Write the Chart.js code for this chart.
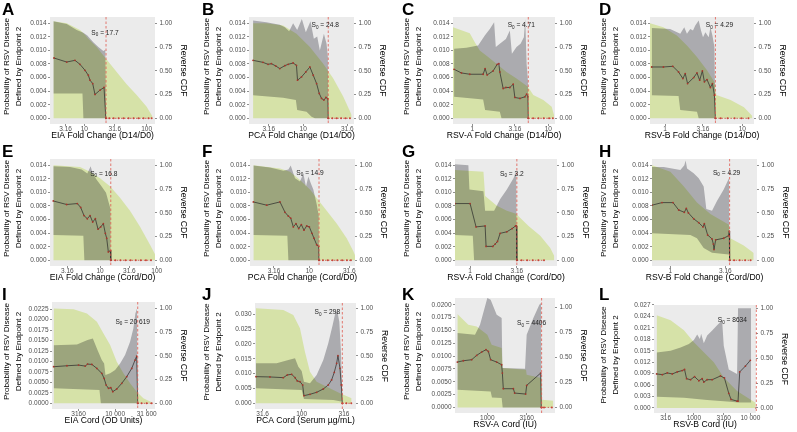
<!DOCTYPE html>
<html>
<head>
<meta charset="utf-8">
<script src="https://cdn.jsdelivr.net/npm/chart.js@4.4.1/dist/chart.umd.min.js"></script>
<style>
  body { margin: 0; background: #fff; }
  #wrap { position: relative; width: 797px; height: 432px; overflow: hidden; }
  #wrap canvas { position: absolute; }
</style>
</head>
<body>
<div id="wrap"></div>
<script>
// x values are log10 of the marker; y values are probabilities (cdf arrays: reverse CDF, 0-1)
const probA = [[0.513,0.00888],[0.717,0.00829],[0.850,0.00854],[0.930,0.00795],[1.011,0.00707],[1.064,0.00634],[1.091,0.00561],[1.134,0.00512],[1.171,0.00351],[1.251,0.00415],[1.316,0.00454],[1.345,0]];
const hiA = [[0.503,0.01429],[0.717,0.0139],[0.877,0.0130],[0.984,0.0126],[1.048,0.0122],[1.144,0.01122],[1.225,0.01049],[1.305,0.0099],[1.337,0.0101],[1.348,0]];
const loA = [[0.503,0.00366],[0.97,0.00366],[0.985,0],[1.348,0]];
const cdfA = [[0.503,1.02],[0.717,1.0],[0.930,0.93],[1.011,0.88],[1.064,0.836],[1.198,0.749],[1.348,0.627],[1.519,0.488],[1.679,0.359],[1.84,0.244],[2.0,0.122],[2.096,0.017]];
const tailA = [1.40,1.47,1.55,1.63,1.71,1.79,1.87,1.95,2.03,2.08];

const probB = [[0.432,0.00854],[0.545,0.00824],[0.602,0.00795],[0.640,0.00805],[0.689,0.00771],[0.735,0.00732],[0.792,0.00776],[0.830,0.00795],[0.886,0.00815],[0.924,0.0078],[0.936,0.00561],[0.981,0.0061],[1.030,0.00683],[1.076,0.00756],[1.114,0.00634],[1.152,0.00512],[1.182,0.00366],[1.208,0.00293],[1.235,0.00268],[1.258,0.00307],[1.280,0.00288],[1.284,0]];
const hiB = [[0.432,0.01439],[0.583,0.01415],[0.735,0.0138],[0.792,0.01341],[0.841,0.01283],[0.886,0.014],[0.932,0.01302],[0.985,0.01463],[1.030,0.01268],[1.083,0.01429],[1.121,0.01171],[1.159,0.01205],[1.189,0.01],[1.235,0.01244],[1.265,0.01098],[1.280,0.00902],[1.284,0]];
const loB = [[0.432,0.00341],[0.773,0.00302],[0.917,0.00268],[0.932,0.00122],[1.038,0.00098],[1.095,0.00024],[1.133,0],[1.284,0]];
const cdfB = [[0.432,1.0],[0.583,1.0],[0.773,0.976],[0.924,0.889],[1.076,0.749],[1.227,0.575],[1.341,0.418],[1.455,0.226],[1.549,0.035]];
const tailB = [1.33,1.38,1.43,1.48,1.53];

const probC = [[-0.242,0.00722],[-0.145,0.00668],[-0.035,0.00649],[0.141,0.00649],[0.167,0.00732],[0.194,0.00639],[0.273,0.00698],[0.326,0.00795],[0.348,0.00805],[0.361,0.00683],[0.405,0.00439],[0.441,0.00454],[0.493,0.00454],[0.537,0.00502],[0.559,0.00307],[0.626,0.00293],[0.692,0.00317],[0.714,0.00356],[0.731,0.00317],[0.736,0]];
const hiC = [[-0.242,0.01024],[-0.079,0.01039],[0.075,0.01073],[0.163,0.0122],[0.229,0.01317],[0.286,0.01415],[0.308,0.01049],[0.361,0.01098],[0.441,0.0117],[0.493,0.01293],[0.52,0.00951],[0.581,0.01049],[0.634,0.01098],[0.678,0.01195],[0.696,0.01463],[0.714,0.00805],[0.731,0.0056],[0.736,0]];
const loC = [[-0.242,0.00317],[0.141,0.00278],[0.167,0.00122],[0.361,0.00098],[0.383,0],[0.736,0]];
const cdfC = [[-0.256,0.958],[-0.035,0.895],[0.031,0.801],[0.097,0.714],[0.207,0.645],[0.317,0.575],[0.449,0.488],[0.581,0.418],[0.731,0.331],[0.802,0.244],[0.934,0.192],[1.044,0.122],[1.075,0.035]];
const tailC = [0.80,0.87,0.94,1.01,1.06];

const probD = [[-0.174,0.00756],[-0.022,0.00756],[0.1,0.00766],[0.174,0.00683],[0.23,0.00585],[0.261,0.00659],[0.291,0.00512],[0.37,0.006],[0.413,0.00668],[0.448,0.00561],[0.483,0.00698],[0.509,0.00537],[0.543,0.00571],[0.587,0.00454],[0.613,0.00512],[0.639,0.00341],[0.652,0]];
const hiD = [[-0.174,0.01332],[0.065,0.01317],[0.196,0.01244],[0.248,0.01341],[0.283,0.01244],[0.326,0.01317],[0.361,0.01293],[0.391,0.01366],[0.435,0.01439],[0.465,0.01293],[0.491,0.01195],[0.522,0.01268],[0.565,0.01195],[0.587,0.01341],[0.613,0.0122],[0.639,0.01049],[0.652,0]];
const loD = [[-0.174,0.00341],[0.174,0.00327],[0.196,0.00122],[0.413,0.00098],[0.435,0],[0.652,0]];
const cdfD = [[-0.196,1.0],[-0.022,0.958],[0.152,0.871],[0.283,0.767],[0.413,0.645],[0.543,0.505],[0.639,0.383],[0.665,0.244],[0.848,0.192],[1.022,0.115],[1.13,0.024]];
const tailD = [0.72,0.81,0.9,0.99,1.08];

const probE = [[0.176,0.00874],[0.412,0.00822],[0.6,0.00836],[0.659,0.00779],[0.718,0.00659],[0.776,0.00612],[0.824,0.00659],[0.871,0.00564],[0.918,0.00612],[0.965,0.00459],[1.012,0.00492],[1.059,0.0054],[1.094,0.00397],[1.118,0.00325],[1.147,0.00124],[1.186,0.00143],[1.19,0]];
const hiE = [[0.176,0.01386],[0.471,0.01376],[0.676,0.01338],[0.776,0.0128],[0.835,0.01386],[0.871,0.0128],[0.941,0.01185],[1.029,0.01089],[1.106,0.00994],[1.153,0.0085],[1.186,0.00755],[1.19,0]];
const loE = [[0.176,0.00373],[0.706,0.00363],[0.724,0],[1.19,0]];
const cdfE = [[0.176,1.0],[0.647,0.983],[0.824,0.932],[1.0,0.863],[1.176,0.778],[1.353,0.659],[1.529,0.522],[1.706,0.352],[1.882,0.164],[1.988,0.044]];
const tailE = [1.27,1.36,1.45,1.54,1.63,1.72,1.81,1.9];

const probF = [[0.3,0.0086],[0.467,0.00812],[0.633,0.0086],[0.696,0.00707],[0.738,0.0065],[0.767,0.00621],[0.8,0.00492],[0.833,0.0054],[0.867,0.00468],[0.9,0.00526],[0.933,0.00444],[0.967,0.00506],[1.0,0.00492],[1.033,0.00397],[1.058,0.00325],[1.092,0.00229],[1.117,0.00205],[1.121,0]];
const hiF = [[0.3,0.01395],[0.508,0.01367],[0.675,0.01319],[0.738,0.01338],[0.767,0.01395],[0.821,0.01209],[0.883,0.01161],[0.925,0.0128],[0.958,0.01089],[0.988,0.01233],[1.017,0.01137],[1.05,0.01042],[1.092,0.00827],[1.117,0.00659],[1.121,0]];
const loF = [[0.3,0.00373],[0.725,0.00363],[0.738,0],[1.121,0]];
const cdfF = [[0.3,1.0],[0.633,0.966],[0.758,0.932],[0.883,0.846],[1.008,0.744],[1.121,0.625],[1.217,0.522],[1.342,0.386],[1.467,0.232],[1.55,0.096],[1.583,0.027]];
const tailF = [1.17,1.23,1.29,1.35,1.41,1.47,1.52];

const probG = [[-0.161,0.00836],[0,0.00836],[0.064,0.00492],[0.161,0.00506],[0.171,0.00205],[0.243,0.00205],[0.268,0.00239],[0.293,0.00277],[0.321,0.00397],[0.393,0.0042],[0.45,0.00468],[0.486,0.00506],[0.496,0.00506],[0.5,0]];
const hiG = [[-0.161,0.01414],[-0.018,0.014],[-0.007,0.01042],[0.143,0.01018],[0.161,0.00731],[0.257,0.00731],[0.321,0.00898],[0.393,0.01042],[0.464,0.01209],[0.493,0.01304],[0.5,0]];
const loG = [[-0.161,0.00373],[0.029,0.00363],[0.043,0],[0.5,0]];
const cdfG = [[-0.161,0.949],[0.143,0.932],[0.161,0.676],[0.286,0.573],[0.393,0.522],[0.5,0.488],[0.518,0.464],[0.625,0.362],[0.75,0.259],[0.857,0.13],[0.9,0.044]];
const tailG = [0.55,0.61,0.67,0.73,0.79];

const probH = [[-0.167,0.00812],[-0.076,0.0085],[0.024,0.0085],[0.076,0.00741],[0.127,0.00707],[0.145,0.00764],[0.164,0.00698],[0.212,0.00612],[0.258,0.00554],[0.297,0.00492],[0.309,0.0054],[0.339,0.00373],[0.379,0.00315],[0.391,0.00239],[0.397,0.00158],[0.412,0.00301],[0.485,0.00325],[0.53,0.00363],[0.536,0.0043],[0.539,0]];
const hiH = [[-0.167,0.01376],[-0.061,0.01376],[0.091,0.01329],[0.127,0.014],[0.139,0.0147],[0.152,0.01352],[0.212,0.01281],[0.258,0.01209],[0.303,0.01089],[0.327,0.00755],[0.379,0.00731],[0.424,0.00874],[0.485,0.01042],[0.533,0.01209],[0.539,0]];
const loH = [[-0.167,0.00397],[0.182,0.00373],[0.242,0.00325],[0.303,0.00182],[0.379,0.0011],[0.533,0.00086],[0.539,0]];
const cdfH = [[-0.167,1.0],[0,0.932],[0.121,0.778],[0.242,0.608],[0.364,0.488],[0.533,0.375],[0.545,0.232],[0.667,0.157],[0.758,0.078]];
const tailH = [0.58,0.63,0.68,0.73];

const probI = [[3.026,0.00875],[3.237,0.00898],[3.421,0.00914],[3.526,0.0089],[3.563,0.00938],[3.632,0.0093],[3.711,0.00835],[3.789,0.00716],[3.826,0.00596],[3.858,0.00437],[3.895,0.00358],[3.932,0.00374],[3.963,0.00278],[4.026,0.00342],[4.105,0.00477],[4.184,0.00636],[4.263,0.00835],[4.316,0.01034],[4.342,0.01129],[4.358,0]];
const hiI = [[3.026,0.01391],[3.395,0.01407],[3.563,0.01511],[3.647,0.0155],[3.721,0.01272],[3.789,0.01034],[3.826,0.00954],[3.847,0.00676],[3.921,0.00716],[4.0,0.00795],[4.079,0.00954],[4.158,0.01153],[4.237,0.01471],[4.289,0.01789],[4.321,0.02147],[4.347,0.02266],[4.358,0]];
const loI = [[3.026,0.00358],[3.752,0.00318],[3.774,0],[4.358,0]];
const cdfI = [[3.026,1.0],[3.342,0.993],[3.553,0.947],[3.711,0.86],[3.816,0.737],[3.921,0.614],[4.026,0.439],[4.132,0.316],[4.237,0.211],[4.342,0.123],[4.447,0.053],[4.579,0.011]];
const tailI = [4.42,4.5,4.58];

const probJ = [[1.418,0.00899],[1.59,0.00888],[1.754,0.00865],[1.803,0.00955],[1.857,0.00978],[1.898,0.00865],[1.926,0.00753],[1.959,0.0073],[1.992,0.00618],[2.008,0.00258],[2.082,0.00303],[2.164,0.00371],[2.246,0.00483],[2.307,0.00618],[2.348,0.00787],[2.381,0.01045],[2.41,0.01348],[2.426,0.01607],[2.451,0.0118],[2.467,0.00618],[2.48,0]];
const hiJ = [[1.418,0.01348],[1.672,0.01348],[1.816,0.01461],[1.898,0.01517],[1.939,0.01236],[1.98,0.0109],[2.008,0.0073],[2.082,0.00674],[2.164,0.00955],[2.246,0.01461],[2.307,0.02022],[2.361,0.0264],[2.393,0.03034],[2.418,0.03112],[2.443,0.02753],[2.463,0.01742],[2.478,0.00281],[2.48,0]];
const loJ = [[1.418,0.00506],[1.98,0.00449],[2.008,0.00146],[2.369,0.00112],[2.48,0.00056]];
const cdfJ = [[1.418,1.0],[1.754,0.982],[1.877,0.93],[1.959,0.789],[2.02,0.544],[2.082,0.333],[2.164,0.228],[2.287,0.175],[2.451,0.105],[2.594,0.053]];
const tailJ = [2.53,2.59];

const probK = [[2.619,0.00883],[2.695,0.00909],[2.801,0.00929],[2.864,0.01013],[2.928,0.01078],[2.983,0.01124],[3.013,0.01091],[3.042,0.00929],[3.119,0.00883],[3.182,0.00831],[3.191,0.00669],[3.203,0.00364],[3.331,0.00364],[3.347,0.00279],[3.487,0.0026],[3.5,0.00429],[3.678,0.00669],[3.686,0]];
const hiK = [[2.619,0.01448],[2.843,0.01416],[2.907,0.01611],[3.0,0.0213],[3.042,0.02098],[3.119,0.01805],[3.182,0.0174],[3.191,0.00766],[3.479,0.00753],[3.5,0.01416],[3.585,0.0174],[3.661,0.02],[3.682,0.02033],[3.69,0]];
const loK = [[2.619,0.00344],[3.042,0.00312],[3.059,0.00195],[3.182,0.00182],[3.195,0],[3.69,0]];
const cdfK = [[2.619,0.933],[2.758,0.827],[2.864,0.81],[3.0,0.727],[3.055,0.627],[3.182,0.593],[3.195,0.393],[3.492,0.377],[3.5,0.327],[3.686,0.293],[3.695,0.077],[3.839,0.067]];
const tailK = [3.72,3.82];

const probL = [[2.341,0.00891],[2.441,0.00873],[2.529,0.00918],[2.618,0.00891],[2.706,0.00945],[2.794,0.0098],[2.835,0.01007],[2.871,0.00766],[2.941,0.0074],[3.012,0.0082],[3.088,0.00713],[3.147,0.00766],[3.176,0.00677],[3.235,0.0074],[3.324,0.0074],[3.471,0.00838],[3.541,0.00784],[3.618,0.00383],[3.659,0.00223],[3.765,0.00178],[3.782,0.00178],[3.812,0.00945],[3.912,0.01096],[4.0,0.01248]];
const hiL = [[2.341,0.01452],[2.588,0.01497],[2.765,0.01586],[2.912,0.01675],[3.0,0.01782],[3.059,0.01925],[3.106,0.01809],[3.129,0.01943],[3.176,0.01693],[3.235,0.01898],[3.324,0.02032],[3.412,0.02165],[3.5,0.02299],[3.529,0.01631],[3.618,0.01007],[3.765,0.00891],[3.782,0.02611],[4.012,0.02611],[4.015,0]];
const loL = [[2.341,0.00294],[2.824,0.00267],[3.235,0.00205],[3.647,0.0016],[3.782,0.00143],[4.012,0.00143],[4.015,0]];
const cdfL = [[2.341,0.932],[2.588,0.881],[2.824,0.78],[3.0,0.661],[3.176,0.559],[3.353,0.458],[3.529,0.305],[3.765,0.169],[4.0,0.085],[4.094,0.051]];
const tailL = [];

// tick positions (log10) and their labels
const xtA = [0.70,1.0,1.49,2.0],   xlA = ['3.16','10','31.6','100'];
const xtB = [0.61,1.0,1.5],        xlB = ['3.16','10','31.6'];
const xtC = [0,0.56,1.0],          xlC = ['1','3.16','10'];
const xtD = [0,0.49,1.0],          xlD = ['1','3.16','10'];
const xtE = [0.424,1.0,1.518,2.0], xlE = ['3.16','10','31.6','100'];
const xtF = [0.558,1.0,1.5],       xlF = ['3.16','10','31.6'];
const xtG = [0,0.5],               xlG = ['1','3.16'];
const xtH = [0,0.5],               xlH = ['1','3.16'];
const xtI = [3.421,4.0,4.5],       xlI = ['3160','10 000','31 600'];
const xtJ = [1.5,1.98,2.5],        xlJ = ['31.6','100','316'];
const xtK = [3.0,3.5],             xlK = ['1000','3160'];
const xtL = [2.5,3.0,3.529,4.0],   xlL = ['316','1000','3160','10 000'];

const yt014 = [0,0.002,0.004,0.006,0.008,0.010,0.012,0.014];
const ytI = [0,0.0025,0.005,0.0075,0.01,0.0125,0.015,0.0175,0.02,0.0225];
const ytJ = [0,0.005,0.01,0.015,0.02,0.025,0.03];
const ytK = [0,0.0025,0.005,0.0075,0.01,0.0125,0.015,0.0175,0.02];
const ytL = [0,0.003,0.006,0.009,0.012,0.015,0.018,0.021,0.024,0.027];
const cdfTicks = [0,0.25,0.5,0.75,1];

const s0Values = ['17.7','24.8','4.71','4.29','16.8','14.9','3.2','4.29','20 619','298','4406','8634'];

const W = 200, H = 147;
const colX = [0, 200, 400, 597], rowY = [0, 142, 285];
const FONT = 'Liberation Sans, Arial, Helvetica, sans-serif';

const panels = [
  {id:'A', c:0, r:0, prob:probA, hi:hiA, lo:loA, cdf:cdfA, tail:tailA, xMin:0.449, xMax:2.134, xt:xtA, xl:xlA, yt:yt014, dec:3, k:0.014, rMin:-0.06, rMax:1.066, s0:1.348, s0Y:0.9, lx:-1, title:'EIA Fold Change (D14/D0)', pl:50, pr:155, pt:17, pb:124},
  {id:'B', c:1, r:0, prob:probB, hi:hiB, lo:loB, cdf:cdfB, tail:tailB, xMin:0.386, xMax:1.576, xt:xtB, xl:xlB, yt:yt014, dec:3, k:0.014, rMin:-0.06, rMax:1.066, s0:1.284, s0Y:0.98, lx:-3, title:'PCA Fold Change (D14/D0)', pl:49, pr:154, pt:17, pb:124},
  {id:'C', c:2, r:0, prob:probC, hi:hiC, lo:loC, cdf:cdfC, tail:tailC, xMin:-0.256, xMax:1.088, xt:xtC, xl:xlC, yt:yt014, dec:3, k:0.014, rMin:-0.06, rMax:1.066, s0:0.736, s0Y:0.98, lx:-7, title:'RSV-A Fold Change (D14/D0)', pl:53, pr:155, pt:17, pb:124},
  {id:'D', c:3, r:0, prob:probD, hi:hiD, lo:loD, cdf:cdfD, tail:tailD, xMin:-0.196, xMax:1.152, xt:xtD, xl:xlD, yt:yt014, dec:3, k:0.014, rMin:-0.06, rMax:1.066, s0:0.652, s0Y:0.98, lx:4, title:'RSV-B Fold Change (D14/D0)', pl:53, pr:157, pt:17, pb:124},
  {id:'E', c:0, r:1, prob:probE, hi:hiE, lo:loE, cdf:cdfE, tail:tailE, xMin:0.118, xMax:1.97, xt:xtE, xl:xlE, yt:yt014, dec:3, k:0.014, rMin:-0.06, rMax:1.066, s0:1.19, s0Y:0.91, lx:-7, title:'EIA Fold Change (Cord/D0)', pl:50, pr:155, pt:17, pb:124},
  {id:'F', c:1, r:1, prob:probF, hi:hiF, lo:loF, cdf:cdfF, tail:tailF, xMin:0.258, xMax:1.571, xt:xtF, xl:xlF, yt:yt014, dec:3, k:0.014, rMin:-0.06, rMax:1.066, s0:1.121, s0Y:0.92, lx:-9, title:'PCA Fold Change (Cord/D0)', pl:50, pr:155, pt:17, pb:124},
  {id:'G', c:2, r:1, prob:probG, hi:hiG, lo:loG, cdf:cdfG, tail:tailG, xMin:-0.161, xMax:0.929, xt:xtG, xl:xlG, yt:yt014, dec:3, k:0.014, rMin:-0.06, rMax:1.066, s0:0.5, s0Y:0.91, lx:-5, title:'RSV-A Fold Change (Cord/D0)', pl:55, pr:157, pt:17, pb:124},
  {id:'H', c:3, r:1, prob:probH, hi:hiH, lo:loH, cdf:cdfH, tail:tailH, xMin:-0.167, xMax:0.788, xt:xtH, xl:xlH, yt:yt014, dec:3, k:0.014, rMin:-0.06, rMax:1.066, s0:0.539, s0Y:0.92, lx:-3, title:'RSV-B Fold Change (Cord/D0)', pl:55, pr:160, pt:17, pb:124},
  {id:'I', c:0, r:2, prob:probI, hi:hiI, lo:loI, cdf:cdfI, tail:tailI, xMin:3.0, xMax:4.632, xt:xtI, xl:xlI, yt:ytI, dec:4, k:0.02266, rMin:-0.06, rMax:1.069, s0:4.358, s0Y:0.86, lx:-5, title:'EIA Cord (OD Units)', pl:52, pr:155, pt:17, pb:124},
  {id:'J', c:1, r:2, prob:probJ, hi:hiJ, lo:loJ, cdf:cdfJ, tail:tailJ, xMin:1.406, xMax:2.648, xt:xtJ, xl:xlJ, yt:ytJ, dec:3, k:0.03202, rMin:-0.06, rMax:1.056, s0:2.48, s0Y:0.96, lx:-15, title:'PCA Cord (Serum µg/mL)', pl:55, pr:156, pt:18, pb:124},
  {id:'K', c:2, r:2, prob:probK, hi:hiK, lo:loK, cdf:cdfK, tail:tailK, xMin:2.589, xMax:3.86, xt:xtK, xl:xlK, yt:ytK, dec:4, k:0.01948, rMin:-0.056, rMax:1.094, s0:3.69, s0Y:0.84, lx:-10, title:'RSV-A Cord (IU)', pl:55, pr:155, pt:13, pb:128},
  {id:'L', c:3, r:2, prob:probL, hi:hiL, lo:loL, cdf:cdfL, tail:tailL, xMin:2.294, xMax:4.1, xt:xtL, xl:xlL, yt:ytL, dec:3, k:0.0261, rMin:-0.051, rMax:1.034, s0:4.106, s0Y:0.88, lx:-24, title:'RSV-B Cord (IU)', pl:57, pr:159, pt:20, pb:128}
];

const pts = arr => arr.map(p => ({x: p[0], y: p[1]}));

const decor = {
  id: 'decor',
  beforeDraw(chart) {
    const {ctx, chartArea: a} = chart;
    ctx.save();
    ctx.fillStyle = '#ebebeb';
    ctx.fillRect(a.left, a.top, a.right - a.left, a.bottom - a.top);
    ctx.restore();
  },
  beforeDatasetsDraw(chart) {
    chart.ctx.save();
    chart.ctx.globalCompositeOperation = 'multiply';
  },
  beforeDatasetDraw(chart, args) {
    if (args.index === 1) chart.ctx.globalCompositeOperation = 'source-over';
  },
  afterDatasetsDraw(chart, args, o) {
    const {ctx, chartArea: a} = chart;
    ctx.restore();
    const p = o.p;
    const xs = chart.scales.x.getPixelForValue(p.s0);
    ctx.save();
    ctx.strokeStyle = '#e0594f';
    ctx.lineWidth = 0.8;
    ctx.setLineDash([2.5, 2]);
    ctx.beginPath();
    ctx.moveTo(xs, a.top);
    ctx.lineTo(xs, a.bottom);
    ctx.stroke();
    ctx.setLineDash([]);
    // S0 label
    const big = '6.6px ' + FONT, small = '4.6px ' + FONT;
    const rest = ' = ' + s0Values[o.i];
    ctx.font = big;
    const wS = ctx.measureText('S').width, wR = ctx.measureText(rest).width;
    ctx.font = small;
    const w0 = ctx.measureText('0').width;
    const total = wS + w0 + wR;
    let left = xs + p.lx - total / 2;
    if (left + total > a.right - 3) left = a.right - 3 - total;
    const yb = chart.scales.y1.getPixelForValue(p.s0Y) + 2;
    ctx.fillStyle = '#222';
    ctx.textBaseline = 'alphabetic';
    ctx.textAlign = 'left';
    ctx.font = big;
    ctx.fillText('S', left, yb);
    ctx.font = small;
    ctx.fillText('0', left + wS, yb + 1.6);
    ctx.font = big;
    ctx.fillText(rest, left + wS + w0, yb);
    ctx.restore();
  },
  afterDraw(chart, args, o) {
    const {ctx, chartArea: a} = chart;
    const p = o.p;
    const midY = (a.top + a.bottom) / 2;
    ctx.save();
    ctx.fillStyle = '#000';
    ctx.textAlign = 'center';
    ctx.textBaseline = 'middle';
    ctx.font = '8.6px ' + FONT;
    ctx.fillText(p.title, (a.left + a.right) / 2, a.bottom + 12);
    // left title (two lines)
    ctx.font = '8.1px ' + FONT;
    ctx.save();
    ctx.translate(7, midY - 4);
    ctx.rotate(-Math.PI / 2);
    ctx.fillText('Probability of RSV Disease', 0, 0);
    ctx.restore();
    ctx.save();
    ctx.translate(18.5, midY - 4);
    ctx.rotate(-Math.PI / 2);
    ctx.fillText('Defined by Endpoint 2', 0, 0);
    ctx.restore();
    // right title
    ctx.save();
    ctx.translate(a.right + 28, midY);
    ctx.rotate(Math.PI / 2);
    ctx.font = '8.6px ' + FONT;
    ctx.fillText('Reverse CDF', 0, 0);
    ctx.restore();
    // panel letter
    ctx.textAlign = 'left';
    ctx.textBaseline = 'alphabetic';
    ctx.font = 'bold 17px ' + FONT;
    ctx.fillText(p.id, 2, 15);
    ctx.restore();
  }
};

const tickFont = {family: FONT, size: 6.5};
const wrap = document.getElementById('wrap');

panels.forEach((p, i) => {
  const cv = document.createElement('canvas');
  cv.width = W; cv.height = H;
  cv.style.left = colX[p.c] + 'px';
  cv.style.top = rowY[p.r] + 'px';
  wrap.appendChild(cv);

  const tailData = [{x: p.s0, y: 0}].concat(p.tail.map(x => ({x: x, y: 0})));

  new Chart(cv.getContext('2d'), {
    type: 'line',
    data: {
      datasets: [
        {data: pts(p.prob), yAxisID: 'y', borderColor: '#262626', borderWidth: 0.7,
         pointRadius: 0.9, pointBackgroundColor: '#a8362b', pointBorderWidth: 0, fill: false, tension: 0},
        {data: tailData, yAxisID: 'y', borderColor: '#c8453a', borderWidth: 0.8, borderDash: [1.5, 1.5],
         pointRadius: 1, pointBackgroundColor: '#c8453a', pointBorderWidth: 0, fill: false},
        {data: pts(p.cdf), yAxisID: 'y1', borderColor: 'rgba(0,0,0,0)', borderWidth: 0,
         pointRadius: 0, fill: 'origin', backgroundColor: 'rgb(233,246,182)'},
        {data: pts(p.hi), yAxisID: 'y', borderColor: 'rgba(0,0,0,0)', borderWidth: 0,
         pointRadius: 0, fill: '+1', backgroundColor: 'rgb(186,186,190)'},
        {data: pts(p.lo), yAxisID: 'y', borderColor: 'rgba(0,0,0,0)', borderWidth: 0,
         pointRadius: 0, fill: false}
      ]
    },
    options: {
      responsive: false,
      animation: false,
      events: [],
      devicePixelRatio: 1,
      layout: {padding: {top: p.pt, left: 0, right: 0, bottom: 0}},
      plugins: {legend: {display: false}, tooltip: {enabled: false}, decor: {p: p, i: i}},
      scales: {
        x: {
          type: 'linear', min: p.xMin, max: p.xMax,
          afterBuildTicks: s => { s.ticks = p.xt.map(v => ({value: v})); },
          afterFit: s => { s.height = H - p.pb; },
          ticks: {callback: (v, idx) => p.xl[idx], font: tickFont, color: '#4d4d4d',
                  padding: -1, maxRotation: 0, autoSkip: false},
          grid: {drawOnChartArea: false, tickLength: 2, color: '#444', lineWidth: 0.6},
          border: {display: false}
        },
        y: {
          position: 'left', min: p.k * p.rMin, max: p.k * p.rMax,
          afterBuildTicks: s => { s.ticks = p.yt.map(v => ({value: v})); },
          afterFit: s => { s.width = p.pl; },
          ticks: {callback: v => v.toFixed(p.dec), font: tickFont, color: '#4d4d4d', padding: 1.5},
          grid: {drawOnChartArea: false, tickLength: 2, color: '#444', lineWidth: 0.6},
          border: {display: false}
        },
        y1: {
          position: 'right', min: p.rMin, max: p.rMax,
          afterBuildTicks: s => { s.ticks = cdfTicks.map(v => ({value: v})); },
          afterFit: s => { s.width = W - p.pr; },
          ticks: {callback: v => v.toFixed(2), font: tickFont, color: '#4d4d4d', padding: 2.5},
          grid: {drawOnChartArea: false, tickLength: 2, color: '#444', lineWidth: 0.6},
          border: {display: false}
        }
      }
    },
    plugins: [decor]
  });
});
</script>
</body>
</html>
